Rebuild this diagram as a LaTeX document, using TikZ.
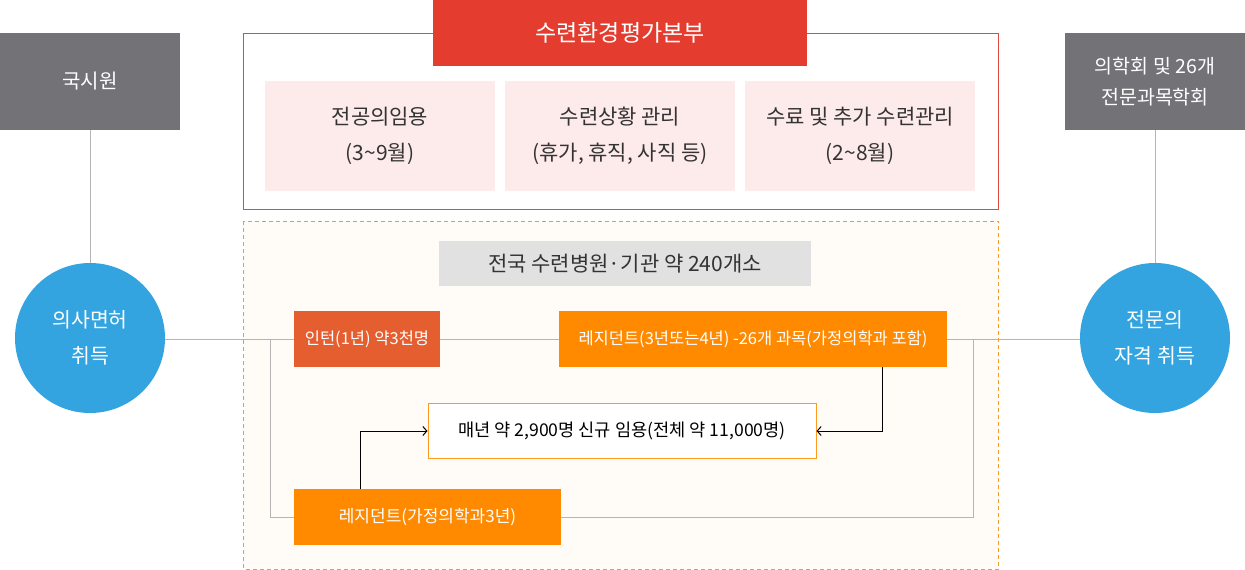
\documentclass[tikz,border=0pt]{standalone}
\usepackage{fontspec}
\setmainfont{Noto Sans CJK KR}
\usetikzlibrary{arrows.meta}
\definecolor{boxgray}{HTML}{737277}
\definecolor{circblue}{HTML}{33A4DF}
\definecolor{hdred}{HTML}{E43D30}
\definecolor{bdred}{HTML}{E04B3F}
\definecolor{pinkfill}{HTML}{FDEAEA}
\definecolor{dashor}{HTML}{F29A2E}
\definecolor{creamfill}{HTML}{FFFCF7}
\definecolor{lblgray}{HTML}{E1E1E1}
\definecolor{internor}{HTML}{E55E30}
\definecolor{resor}{HTML}{FF8A00}
\definecolor{midbd}{HTML}{FF9A1E}
\definecolor{linegray}{HTML}{B5B5B5}
\definecolor{txtdark}{HTML}{333333}
\tikzset{
  graybox/.style={fill=boxgray, text=white, inner sep=0pt, align=center, font=\fontsize{20}{31}\selectfont},
  bluecirc/.style={circle, fill=circblue, text=white, minimum size=150pt, inner sep=0pt, align=center, font=\fontsize{20.5}{36}\selectfont},
  pinkbox/.style={fill=pinkfill, text=txtdark, minimum width=230pt, minimum height=110pt, inner sep=0pt, align=center, font=\fontsize{21}{36}\selectfont},
  orbox/.style={fill=resor, text=white, minimum height=56pt, inner sep=0pt, font=\fontsize{16.5}{18}\selectfont},
  glink/.style={draw=linegray, line width=1pt},
  blink/.style={draw=black, line width=1pt, -{Straight Barb[length=4pt,width=9pt]}}
}
\begin{document}
\begin{tikzpicture}[x=1pt,y=-1pt]
\useasboundingbox (0,0) rectangle (1245,570);
% top red frame
\draw[bdred, line width=1pt] (243.5,33.5) rectangle (998.5,209.5);
\node[fill=hdred, text=white, minimum width=374pt, minimum height=66pt, inner sep=0pt, font=\fontsize{23}{26}\selectfont] (hq) at (620,33) {수련환경평가본부};
\node[pinkbox] (p1) at (380,136) {전공의임용\\(3\textasciitilde9월)};
\node[pinkbox] (p2) at (620,136) {수련상황 관리\\(휴가, 휴직, 사직 등)};
\node[pinkbox] (p3) at (860,136) {수료 및 추가 수련관리\\(2\textasciitilde8월)};
% dashed frame
\draw[dashor, fill=creamfill, line width=1pt, dash pattern=on 4pt off 3pt] (243.5,221) rectangle (998.5,569);
\node[fill=lblgray, text=txtdark, minimum width=372pt, minimum height=45pt, inner sep=0pt, font=\fontsize{21}{24}\selectfont] (lbl) at (625,263.5) {전국 수련병원·기관 약 240개소};
% side boxes
\node[graybox, minimum width=180pt, minimum height=97pt] (ksw) at (90,81.5) {국시원};
\node[graybox, minimum width=180pt, minimum height=97pt, font=\fontsize{19.5}{31}\selectfont] (soc) at (1155,81.5) {의학회 및 26개\\전문과목학회};
\node[bluecirc] (lic) at (90,338) {의사면허\\취득};
\node[bluecirc] (spc) at (1155,338) {전문의\\자격 취득};
% process boxes
\node[fill=internor, text=white, minimum width=146pt, minimum height=56pt, inner sep=0pt, font=\fontsize{16.5}{18}\selectfont] (intern) at (367,339) {인턴(1년) 약3천명};
\node[orbox, minimum width=388pt] (res1) at (753,339) {레지던트(3년또는4년) -26개 과목(가정의학과 포함)};
\node[orbox, minimum width=267pt, font=\fontsize{17}{18}\selectfont] (res2) at (427.5,517) {레지던트(가정의학과3년)};
\node[draw=midbd, fill=white, line width=1pt, text=black, minimum width=388pt, minimum height=55pt, inner sep=0pt, font=\fontsize{17.6}{20}\selectfont] (mid) at (622,431) {매년 약 2,900명 신규 임용(전체 약 11,000명)};
% gray connectors
\coordinate (lj) at (270,339);
\coordinate (lb) at (270,517);
\coordinate (rj) at (973,339);
\coordinate (rb) at (973,517);
\draw[glink] (ksw.south) -- (lic.north);
\draw[glink] (soc.south) -- (spc.north);
\draw[glink] (lic.east |- intern.west) -- (intern.west);
\draw[glink] (intern.east) -- (res1.west);
\draw[glink] (res1.east) -- (spc.west |- res1.east);
\draw[glink] (lj) -- (lb) -- (res2.west);
\draw[glink] (res2.east) -- (rb) -- (rj);
% black arrows
\coordinate (r1d) at (882,367);
\coordinate (r2u) at (360,489);
\draw[blink] (r1d) |- (mid.east);
\draw[blink] (r2u) |- (mid.west);
\end{tikzpicture}
\end{document}
